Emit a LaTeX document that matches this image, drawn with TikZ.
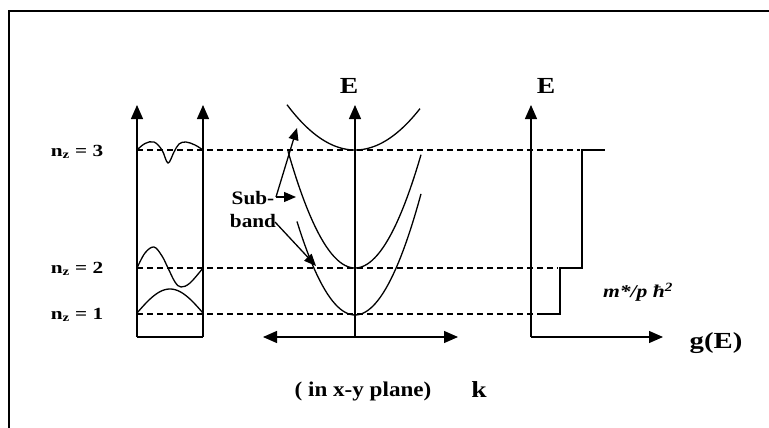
\documentclass[tikz,border=0pt]{standalone}
\usepackage{fontspec}
\setmainfont{Liberation Serif}
\usetikzlibrary{arrows.meta}
\begin{document}
\begin{tikzpicture}[x=1pt,y=-1pt,
  line width=1.3pt,
  axis/.style={-{Triangle[length=14pt,width=12pt]}},
  sarrow/.style={-{Triangle[length=12pt,width=10pt]}},
  dashline/.style={dash pattern=on 6pt off 4pt, line width=1.2pt},
  lbl/.style={font=\bfseries\fontsize{17}{17}\selectfont, inner sep=0pt, xscale=1.25},
  big/.style={font=\bfseries\fontsize{23}{23}\selectfont, inner sep=0pt, xscale=1.2}]
\useasboundingbox (0,0) rectangle (769,428);
\draw[line width=1.5pt] (9,11) rectangle (790,450);
% well
\coordinate (wl0) at (137,337); \coordinate (wl1) at (137,105);
\coordinate (wr0) at (203,337); \coordinate (wr1) at (203,105);
\draw[axis] (wl0) -- (wl1);
\draw[axis] (wr0) -- (wr1);
\draw (wl0) -- (wr0);
% dashed levels
\coordinate (d3a) at (137,150); \coordinate (d3b) at (580,150);
\coordinate (d2a) at (137,268); \coordinate (d2b) at (558,268);
\coordinate (d1a) at (137,314); \coordinate (d1b) at (536,314);
\draw[dashline] (d3a) -- (d3b);
\draw[dashline] (d2a) -- (d2b);
\draw[dashline] (d1a) -- (d1b);
% wavefunctions
\draw plot[smooth,tension=0.6] coordinates {(137,150) (145,143.5) (154,142) (162,150) (168,163) (174,152) (179,144) (186,142) (195,145) (203,150)};
\draw plot[smooth,tension=0.6] coordinates {(137,268) (145,253) (154,247) (162,256) (168,268) (175,282) (181,287) (190,283) (203,268)};
\draw plot[domain=137:203,samples=40] (\x,{313-24*sin(180*(\x-137)/66)});
% level labels
\node[lbl] (n3) at (77,152) {n\textsubscript{z} = 3};
\node[lbl] (n2) at (77,269) {n\textsubscript{z} = 2};
\node[lbl] (n1) at (77,315) {n\textsubscript{z} = 1};
% dispersion
\coordinate (ea0) at (355,337); \coordinate (ea1) at (355,105);
\coordinate (kl) at (263,337); \coordinate (kr) at (458,337);
\draw[axis] (ea0) -- (ea1);
\draw[axis] (ea0) -- (kl);
\draw[axis] (ea0) -- (kr);
\draw plot[domain=287:420,samples=50] (\x,{150-0.0098*(\x-355)^2});
\draw plot[domain=288:421,samples=50] (\x,{268-0.026*(\x-355)^2});
\draw plot[domain=297:421,samples=50] (\x,{315-0.0278*(\x-355)^2});
\node[big] (E1) at (349,86) {E};
% sub-band label
\node[lbl,align=center,font=\bfseries\fontsize{19}{23}\selectfont,xscale=1.12/1.25] (sb) at (253,209) {Sub-\\band};
\coordinate (s0) at (276,197);
\coordinate (s1) at (297,128);
\coordinate (s2) at (296,197);
\coordinate (b0) at (275,222);
\coordinate (b1) at (316,266);
\draw[sarrow] (s0) -- (s1);
\draw[sarrow] (s0) -- (s2);
\draw[sarrow] (b0) -- (b1);
\node[font=\bfseries\fontsize{21}{21}\selectfont, inner sep=0pt, xscale=1.1] (plane) at (363,391) {( in x-y plane)};
\node[big] (k) at (479,390) {k};
% density of states
\coordinate (g0) at (531,337); \coordinate (g1) at (531,105); \coordinate (g2) at (663,337);
\draw[axis] (g0) -- (g1);
\draw[axis] (g0) -- (g2);
\node[big] (E2) at (546,86) {E};
\node[big,xscale=1.25/1.2] (gE) at (716,343) {g(E)};
\coordinate (st0) at (537,314);
\coordinate (st1) at (560,314);
\coordinate (st2) at (560,268);
\coordinate (st3) at (582,268);
\coordinate (st4) at (582,150);
\coordinate (st5) at (605,150);
\draw (st0) -- (st1) -- (st2) -- (st3) -- (st4) -- (st5);
\node[font=\bfseries\itshape\fontsize{18}{18}\selectfont, inner sep=0pt, xscale=1.2] (dos) at (638,292) {m*/p ħ\textsuperscript{2}};
\end{tikzpicture}
\end{document}
